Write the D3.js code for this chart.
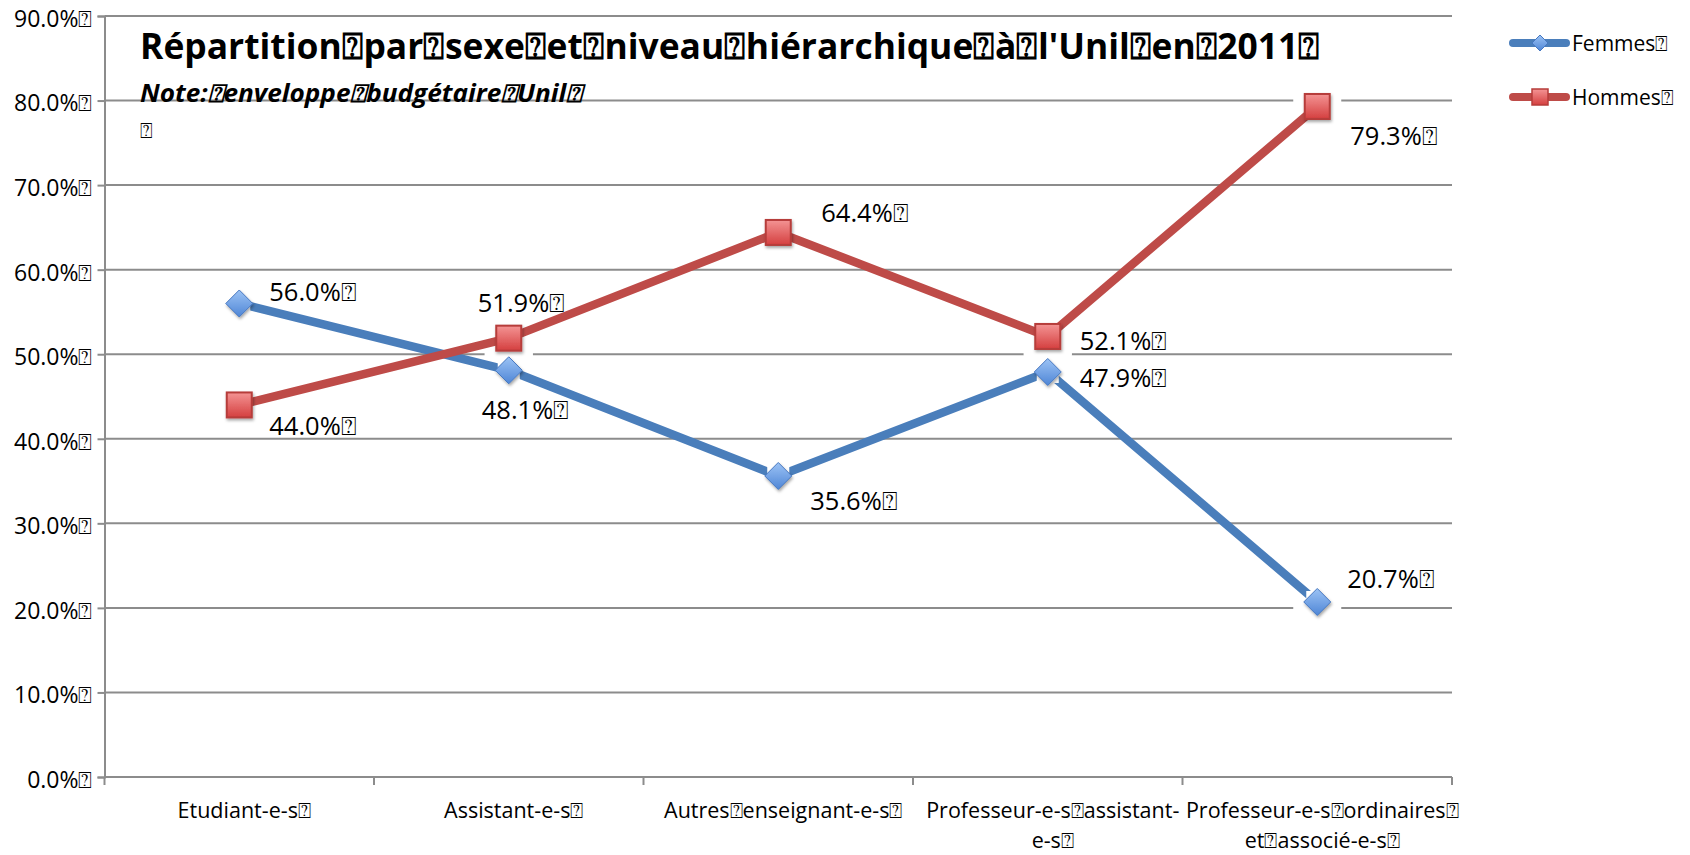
<!DOCTYPE html>
<html>
<head>
<meta charset="utf-8">
<script src="https://cdn.jsdelivr.net/npm/d3@7"></script>
<style>
  body { margin: 0; background: #fff; }
  svg { display: block; font-family: "Open Sans", sans-serif; }
</style>
</head>
<body>
<svg width="1690" height="855"></svg>
<script>
var svg = d3.select('svg');

// chart data
var categories = ["Etudiant-e-s", "Assistant-e-s", "Autres enseignant-e-s", "Professeur-e-s assistant-e-s", "Professeur-e-s ordinaires et associé-e-s"];
var categoryLines = [["Etudiant-e-s⍰"], ["Assistant-e-s⍰"], ["Autres⍰enseignant-e-s⍰"], ["Professeur-e-s⍰assistant-", "e-s⍰"], ["Professeur-e-s⍰ordinaires⍰", "et⍰associé-e-s⍰"]];
var femmes = [56.0, 48.1, 35.6, 47.9, 20.7];
var hommes = [44.0, 51.9, 64.4, 52.1, 79.3];
var yTicks = [0, 10, 20, 30, 40, 50, 60, 70, 80, 90];

// where each value label sits relative to its marker
var femmesLabelOffset = [[30, -12], [-27, 40], [32, 25], [32, 6], [30, -23]];
var hommesLabelOffset = [[30, 21], [-31, -35], [43, -20], [32, 4], [33, 29]];

var plotLeft = 104.5, plotRight = 1452, plotTop = 16, plotBottom = 777;
var gridColor = '#8c8c8c';
var blue = '#4a7ebb', red = '#be4b48';

var x = d3.scaleBand().domain(categories).range([plotLeft, plotRight]);
var y = d3.scaleLinear().domain([0, 90]).range([plotBottom, plotTop]);

var defs = svg.append('defs');
var gb = defs.append('linearGradient').attr('id', 'gBlue').attr('x1', 0).attr('y1', 0).attr('x2', 0).attr('y2', 1);
gb.append('stop').attr('offset', '0%').attr('stop-color', '#9cc3f5');
gb.append('stop').attr('offset', '100%').attr('stop-color', '#4f86d6');
var gr = defs.append('linearGradient').attr('id', 'gRed').attr('x1', 0).attr('y1', 0).attr('x2', 0).attr('y2', 1);
gr.append('stop').attr('offset', '0%').attr('stop-color', '#f49494');
gr.append('stop').attr('offset', '100%').attr('stop-color', '#d43f3f');
var f = defs.append('filter').attr('id', 'shadow').attr('x', '-50%').attr('y', '-50%').attr('width', '200%').attr('height', '200%');
f.append('feDropShadow').attr('dx', 1).attr('dy', 2).attr('stdDeviation', 1.5).attr('flood-color', '#000').attr('flood-opacity', 0.35);

// gridlines
svg.append('g')
    .selectAll('line')
    .data(yTicks.slice(1))
    .enter()
    .append('line')
    .attr('x1', plotLeft).attr('x2', plotRight)
    .attr('y1', function(d) { return y(d); })
    .attr('y2', function(d) { return y(d); })
    .attr('stroke', gridColor)
    .attr('stroke-width', 2);

// y axis
var yAxis = d3.axisLeft(y)
    .tickValues(yTicks)
    .tickSize(7)
    .tickPadding(5)
    .tickFormat(function(d) { return d3.format('.1f')(d) + '%⍰'; });
var gy = svg.append('g').attr('transform', 'translate(' + plotLeft + ',0)').call(yAxis);
gy.select('.domain').attr('stroke', gridColor).attr('stroke-width', 2);
gy.selectAll('.tick line').attr('stroke', gridColor).attr('stroke-width', 2);
gy.selectAll('.tick text')
    .attr('font-family', '"Open Sans", sans-serif')
    .attr('font-size', 23)
    .attr('fill', '#000')
    .attr('dy', '0.45em');

// x axis line and boundary ticks
svg.append('line')
    .attr('x1', plotLeft).attr('x2', plotRight)
    .attr('y1', plotBottom).attr('y2', plotBottom)
    .attr('stroke', gridColor).attr('stroke-width', 2);
var bounds = categories.map(function(c) { return x(c); }).concat([x(categories[categories.length - 1]) + x.bandwidth()]);
svg.append('g')
    .selectAll('line')
    .data(bounds)
    .enter()
    .append('line')
    .attr('x1', function(d) { return d; })
    .attr('x2', function(d) { return d; })
    .attr('y1', plotBottom).attr('y2', plotBottom + 8)
    .attr('stroke', gridColor).attr('stroke-width', 2);

// x labels
var xl = svg.append('g')
    .selectAll('text')
    .data(categories)
    .enter()
    .append('text')
    .attr('text-anchor', 'middle')
    .attr('font-size', 21.5)
    .attr('fill', '#000')
    .attr('transform', function(d) { return 'translate(' + (x(d) + x.bandwidth() / 2 + 5) + ',' + 818 + ')'; });
xl.each(function(d, i) {
    var t = d3.select(this);
    categoryLines[i].forEach(function(line, j) {
        t.append('tspan').attr('x', 0).attr('y', j * 30).text(line);
    });
});

// white halos behind the markers
var allPts = [];
femmes.forEach(function(v, i) { allPts.push([categories[i], v]); });
hommes.forEach(function(v, i) { allPts.push([categories[i], v]); });
svg.append('g')
    .selectAll('rect')
    .data(allPts)
    .enter()
    .append('rect')
    .attr('x', function(d) { return x(d[0]) + x.bandwidth() / 2 - 24; })
    .attr('y', function(d) { return y(d[1]) - 19; })
    .attr('width', 48).attr('height', 38)
    .attr('fill', '#fff');

var line = d3.line()
    .x(function(d, i) { return x(categories[i]) + x.bandwidth() / 2; })
    .y(function(d) { return y(d); });

function drawSeries(values, color, shape, offsets) {
    svg.append('path')
        .datum(values)
        .attr('d', line)
        .attr('fill', 'none')
        .attr('stroke', color)
        .attr('stroke-width', 8.5)
        .attr('stroke-linejoin', 'round');

    var g = svg.append('g')
        .selectAll('g')
        .data(values)
        .enter()
        .append('g')
        .attr('transform', function(d, i) { return 'translate(' + (x(categories[i]) + x.bandwidth() / 2) + ',' + y(d) + ')'; });
    if (shape == 'diamond') {
        g.append('rect').attr('x', -11).attr('y', -11).attr('width', 22).attr('height', 22).attr('fill', '#fff');
        g.append('path')
            .attr('d', 'M0,-13.5L13.5,0L0,13.5L-13.5,0Z')
            .attr('fill', 'url(#gBlue)')
            .attr('stroke', '#4677c0')
            .attr('stroke-width', 1)
            .attr('filter', 'url(#shadow)');
    } else {
        g.append('rect')
            .attr('x', -12.5).attr('y', -12.5).attr('width', 25).attr('height', 25)
            .attr('fill', 'url(#gRed)')
            .attr('stroke', '#b63c3a')
            .attr('stroke-width', 2)
            .attr('filter', 'url(#shadow)');
    }

    svg.append('g')
        .selectAll('text')
        .data(values)
        .enter()
        .append('text')
        .attr('x', function(d, i) { return x(categories[i]) + x.bandwidth() / 2 + offsets[i][0]; })
        .attr('y', function(d, i) { return y(d) + offsets[i][1]; })
        .attr('dy', '0.36em')
        .attr('font-size', 25.5)
        .attr('fill', '#000')
        .text(function(d) { return d3.format('.1f')(d) + '%⍰'; });
}

drawSeries(femmes, blue, 'diamond', femmesLabelOffset);
drawSeries(hommes, red, 'square', hommesLabelOffset);

// title
svg.append('text')
    .attr('x', 140).attr('y', 59)
    .attr('font-size', 36)
    .attr('font-weight', 'bold')
    .attr('textLength', 1180)
    .attr('lengthAdjust', 'spacingAndGlyphs')
    .text("Répartition⍰par⍰sexe⍰et⍰niveau⍰hiérarchique⍰à⍰l'Unil⍰en⍰2011⍰");
svg.append('text')
    .attr('x', 140).attr('y', 102)
    .attr('font-size', 25)
    .attr('font-weight', 'bold')
    .attr('font-style', 'italic')
    .attr('textLength', 442)
    .attr('lengthAdjust', 'spacingAndGlyphs')
    .text('Note:⍰enveloppe⍰budgétaire⍰Unil⍰');
svg.append('text')
    .attr('x', 140).attr('y', 138)
    .attr('font-size', 21)
    .text('⍰');

// legend
var legend = [['Femmes⍰', blue, 'diamond', 43], ['Hommes⍰', red, 'square', 97]];
var lg = svg.append('g')
    .selectAll('g')
    .data(legend)
    .enter()
    .append('g')
    .attr('transform', function(d) { return 'translate(0,' + d[3] + ')'; });
lg.append('line')
    .attr('x1', 1513).attr('x2', 1566)
    .attr('stroke', function(d) { return d[1]; })
    .attr('stroke-width', 8)
    .attr('stroke-linecap', 'round');
lg.filter(function(d) { return d[2] == 'diamond'; })
    .append('path')
    .attr('d', 'M1540,-8L1548,0L1540,8L1532,0Z')
    .attr('fill', 'url(#gBlue)')
    .attr('stroke', '#4677c0');
lg.filter(function(d) { return d[2] == 'square'; })
    .append('rect')
    .attr('x', 1532).attr('y', -8).attr('width', 16).attr('height', 16)
    .attr('fill', 'url(#gRed)')
    .attr('stroke', '#b63c3a')
    .attr('stroke-width', 1.5);
lg.append('text')
    .attr('x', 1572)
    .attr('dy', '0.36em')
    .attr('font-size', 21)
    .text(function(d) { return d[0]; });
</script>
</body>
</html>
